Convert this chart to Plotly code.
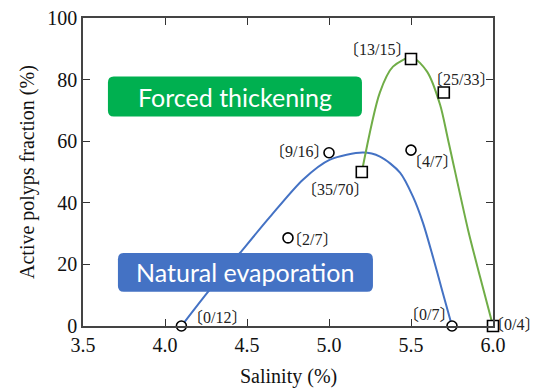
import plotly.graph_objects as go

# ---- data ----
nat_x = [4.1, 4.75, 5.0, 5.5, 5.75]
nat_y = [0, 28.6, 56.25, 57.1, 0]
nat_labels = ["0/12", "2/7", "9/16", "4/7", "0/7"]

forced_x = [5.2, 5.5, 5.7, 6.0]
forced_y = [50, 86.7, 75.8, 0]
forced_labels = ["35/70", "13/15", "25/33", "0/4"]

# fitted curves
nat_curve_x = [4.1, 4.256, 4.457, 4.64, 4.841, 5.006, 5.207, 5.311, 5.433, 5.512, 5.573, 5.634, 5.689, 5.75]
nat_curve_y = [0, 10.7, 23.7, 35.4, 47.5, 54.0, 56.3, 55.0, 49.8, 42.0, 33.5, 22.4, 11.7, 0]
forced_curve_x = [5.2, 5.31, 5.39, 5.506, 5.598, 5.677, 5.726, 5.848, 5.921, 6.0]
forced_curve_y = [50, 75.8, 84.2, 87.2, 82.6, 71.9, 60.5, 31.2, 16, 0]

x_ticks = [3.5, 4.0, 4.5, 5.0, 5.5, 6.0]
y_ticks = [0, 20, 40, 60, 80, 100]

# label offsets in pixels (dx, dy) - styling
nat_offsets = [(36, 10), (24, 0), (-30, 3), (21, -10), (-23, 13)]
forced_offsets = [(-27, -16), (-34, 11), (17, 15), (21, 3)]

BLUE = "#4472C4"
GREEN_LINE = "#70AD47"
GREEN_BOX = "#00B050"
SERIF = "Liberation Serif, serif"
CJK = "Noto Sans CJK JP"


def bracket(t):
    return (f"<span style='font-family:{CJK}'>〔</span>"
            f"<span style='font-family:Liberation Serif'>{t}</span>"
            f"<span style='font-family:{CJK}'>〕</span>")


fig = go.Figure()
fig.add_trace(go.Scatter(x=nat_curve_x, y=nat_curve_y, mode="lines",
                         line=dict(color=BLUE, width=2, shape="spline", smoothing=0.8),
                         hoverinfo="skip", showlegend=False, cliponaxis=False))
fig.add_trace(go.Scatter(x=forced_curve_x, y=forced_curve_y, mode="lines",
                         line=dict(color=GREEN_LINE, width=2, shape="spline", smoothing=0.8),
                         hoverinfo="skip", showlegend=False, cliponaxis=False))
fig.add_trace(go.Scatter(x=nat_x, y=nat_y, mode="markers",
                         marker=dict(symbol="circle", size=10, color="white",
                                     line=dict(color="black", width=1.6)),
                         showlegend=False, cliponaxis=False))
fig.add_trace(go.Scatter(x=forced_x, y=forced_y, mode="markers",
                         marker=dict(symbol="square", size=11, color="white",
                                     line=dict(color="black", width=1.6)),
                         showlegend=False, cliponaxis=False))

annotations = []
for xs, ys, labs, offs in [(nat_x, nat_y, nat_labels, nat_offsets),
                           (forced_x, forced_y, forced_labels, forced_offsets)]:
    for x, y, t, (dx, dy) in zip(xs, ys, labs, offs):
        annotations.append(dict(x=x, y=y, xref="x", yref="y", text=bracket(t), showarrow=False,
                                xanchor="center", yanchor="middle", xshift=dx, yshift=dy,
                                font=dict(family=SERIF, size=16, color="#222")))


def rounded_box(x0, x1, y0, y1, rx, ry):
    return (f"M {x0+rx},{y0} L {x1-rx},{y0} Q {x1},{y0} {x1},{y0+ry} "
            f"L {x1},{y1-ry} Q {x1},{y1} {x1-rx},{y1} L {x0+rx},{y1} "
            f"Q {x0},{y1} {x0},{y1-ry} L {x0},{y0+ry} Q {x0},{y0} {x0+rx},{y0} Z")


shapes = [
    dict(type="path", xref="x", yref="y",
         path=rounded_box(3.652, 5.201, 68.0, 81.0, 0.035, 2.0),
         fillcolor=GREEN_BOX, line=dict(width=0), layer="above"),
    dict(type="path", xref="x", yref="y",
         path=rounded_box(3.713, 5.268, 11.1, 23.7, 0.035, 2.0),
         fillcolor=BLUE, line=dict(width=0), layer="above"),
]
annotations.append(dict(x=(3.652 + 5.201) / 2, y=74.5, xref="x", yref="y",
                        text="Forced thickening", showarrow=False,
                        font=dict(family="Lato, Open Sans, sans-serif", size=25, color="white")))
annotations.append(dict(x=(3.713 + 5.268) / 2, y=17.4, xref="x", yref="y",
                        text="Natural evaporation", showarrow=False,
                        font=dict(family="Lato, Open Sans, sans-serif", size=25, color="white")))

# axis titles
annotations.append(dict(x=0, y=0.5, xref="paper", yref="paper", xshift=-56,
                        xanchor="center", yanchor="middle", textangle=-90, showarrow=False,
                        text="Active polyps fraction (%)",
                        font=dict(family=SERIF, size=20, color="#111")))
annotations.append(dict(x=0.502, y=0, xref="paper", yref="paper", yshift=-50,
                        xanchor="center", yanchor="middle", showarrow=False,
                        text="Salinity (%)",
                        font=dict(family=SERIF, size=20, color="#111")))

axis_common = dict(showgrid=False, zeroline=False, ticks="inside", ticklen=7,
                   tickwidth=1.3, tickcolor="#333", showline=True, linecolor="#444",
                   linewidth=1.5, mirror="ticks", automargin=False,
                   ticklabeloverflow="allow",
                   tickfont=dict(family=SERIF, size=20, color="#111"))

# page body has an 8px margin, so the figure is sized to fill the 539x389 window
fig.update_layout(
    width=531, height=381,
    margin=dict(l=75, r=46, t=10, b=63),
    paper_bgcolor="white", plot_bgcolor="white",
    xaxis=dict(range=[3.5, 6.0], tickvals=x_ticks,
               ticktext=[f"{v:.1f}" for v in x_ticks], **axis_common),
    yaxis=dict(range=[0, 100], tickvals=y_ticks, **axis_common),
    shapes=shapes,
    annotations=annotations,
)

fig.write_html("out.html")
